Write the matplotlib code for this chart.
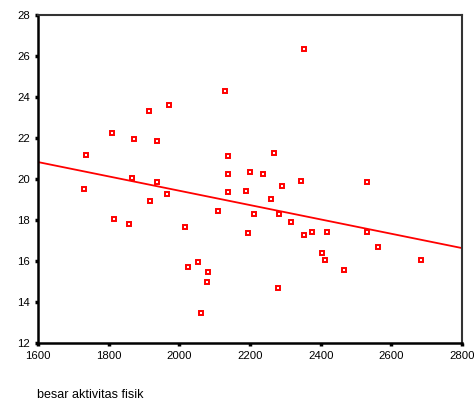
import matplotlib
matplotlib.use("Agg")
import matplotlib.pyplot as plt
import numpy as np

plt.rcParams['font.family'] = ['Liberation Sans', 'DejaVu Sans']

# values
aktivitas = [1735, 1731, 1810, 1815, 1857, 1871, 1866, 1913, 1918, 1937,
             1937, 1970, 1964, 2016, 2025, 2054, 2082, 2077, 2062, 2109,
             2138, 2128, 2138, 2138, 2353, 2269, 2199, 2236, 2343, 2291,
             2189, 2530, 2260, 2212, 2282, 2315, 2193, 2353, 2376, 2418,
             2530, 2404, 2413, 2465, 2563, 2685, 2278]
nilai = [21.2, 19.5, 22.26, 18.05, 17.82, 21.94, 20.08, 23.30, 18.94, 21.85,
         19.84, 23.62, 19.27, 17.66, 15.72, 15.97, 15.48, 14.99, 13.46, 18.45,
         19.35, 24.28, 21.12, 20.24, 26.37, 21.28, 20.33, 20.24, 19.92, 19.67,
         19.43, 19.84, 19.04, 18.31, 18.31, 17.90, 17.35, 17.27, 17.43, 17.43,
         17.43, 16.38, 16.05, 15.56, 16.70, 16.05, 14.68]

x_ticks = [1600, 1800, 2000, 2200, 2400, 2600, 2800]
y_ticks = [12, 14, 16, 18, 20, 22, 24, 26, 28]

x = np.array(aktivitas)
y = np.array(nilai)

fig = plt.figure(figsize=(4.74, 4.09), dpi=100)
ax = fig.add_axes([0.080, 0.161, 0.895, 0.802])

ax.plot(x, y, 's', markersize=3.2, markerfacecolor='white',
        markeredgecolor='#ff0000', markeredgewidth=1.4, linestyle='none')

# linear fit line across the whole x range
slope, intercept = np.polyfit(x, y, 1)
xs = np.array([x_ticks[0], x_ticks[-1]])
ax.plot(xs, intercept + slope * xs, color='#ff0000', linewidth=1.3)

ax.set_xlim(x_ticks[0], x_ticks[-1])
ax.set_ylim(y_ticks[0], y_ticks[-1])
ax.set_xticks(x_ticks)
ax.set_yticks(y_ticks)
ax.tick_params(direction='out', length=2.5, width=2.5, labelsize=8.2,
               pad=3, color='black')

for side in ['left', 'bottom']:
    ax.spines[side].set_linewidth(1.8)
    ax.spines[side].set_color('black')
for side in ['top', 'right']:
    ax.spines[side].set_linewidth(1.5)
    ax.spines[side].set_color('#333333')

fig.text(37 / 474, 1 - 395 / 409, 'besar aktivitas fisik', fontsize=9,
         ha='left', va='center')

fig.savefig('out.png', dpi=100)
